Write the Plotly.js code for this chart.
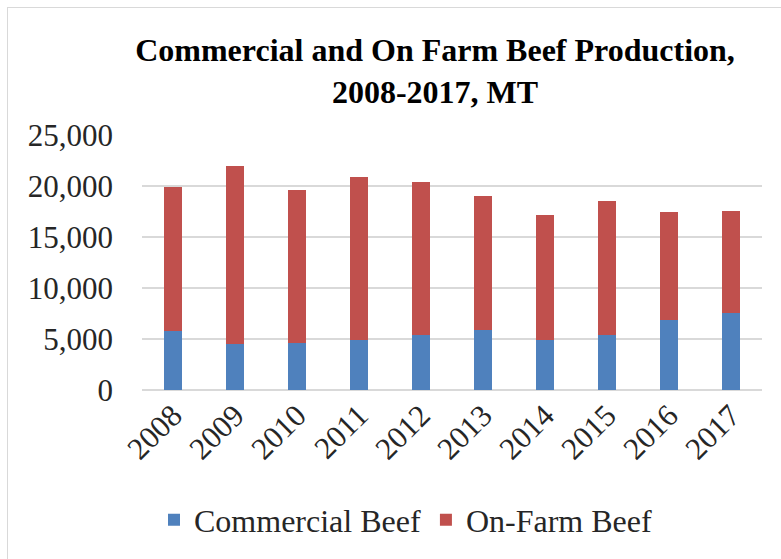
<!DOCTYPE html>
<html>
<head>
<meta charset="utf-8">
<script src="https://cdn.plot.ly/plotly-3.0.1.min.js"></script>
<style>
html,body{margin:0;padding:0;background:#fff;}
#wrap{position:relative;width:781px;height:559px;overflow:hidden;}
#chart{position:absolute;left:0;top:0;width:781px;height:559px;}
#frame{position:absolute;left:7px;top:7px;width:800px;height:600px;border:1.5px solid #d9d9d9;pointer-events:none;}
</style>
</head>
<body>
<div id="wrap"><div id="chart"></div><div id="frame"></div></div>
<script>
const years = ['2008','2009','2010','2011','2012','2013','2014','2015','2016','2017'];
const commercialBeef = [5750, 4480, 4640, 4870, 5360, 5880, 4870, 5360, 6900, 7520];
const onFarmBeef = [14180, 17480, 14930, 16050, 15070, 13140, 12250, 13200, 10560, 10030];
const yTicks = [0, 5000, 10000, 15000, 20000, 25000];
const yTickText = ['0', '5,000', '10,000', '15,000', '20,000', '25,000'];

const font = '"Liberation Serif", "Times New Roman", serif';
const traces = [
  {type:'bar', name:'Commercial Beef', x:years, y:commercialBeef, marker:{color:'#4F81BD'}},
  {type:'bar', name:'On-Farm Beef', x:years, y:onFarmBeef, marker:{color:'#C0504D'}}
];
const layout = {
  width:781, height:559,
  barmode:'stack', bargap:0.7,
  paper_bgcolor:'rgba(0,0,0,0)', plot_bgcolor:'#fff',
  margin:{l:142, r:19, t:135, b:169},
  font:{family:font, color:'#262626', size:32},
  title:{text:'<b>Commercial and On Farm Beef Production,<br>2008-2017, MT</b>',
    font:{family:font, size:32, color:'#000'}, xref:'paper', x:0.4726, xanchor:'center',
    yref:'container', y:0.89, yanchor:'top'},
  xaxis:{type:'category', tickangle:-45, showgrid:false, showline:false, ticks:'',
    tickfont:{size:31, family:font, color:'#262626'}},
  yaxis:{range:[0,25000], tickvals:yTicks, ticktext:yTickText, showgrid:true, gridcolor:'#d9d9d9', gridwidth:1.5,
    zeroline:true, zerolinecolor:'#d9d9d9', zerolinewidth:1.5, ticks:'', ticklabelstandoff:28,
    tickfont:{size:31, family:font, color:'#262626'}},
  legend:{orientation:'h', traceorder:'normal', xref:'paper', x:0.425, xanchor:'center', y:-0.51, yanchor:'middle',
    font:{size:32, family:font, color:'#262626'}, itemwidth:30, tracegroupgap:0},
  showlegend:true
};
Plotly.newPlot('chart', traces, layout, {displayModeBar:false, staticPlot:true});
</script>
</body>
</html>
